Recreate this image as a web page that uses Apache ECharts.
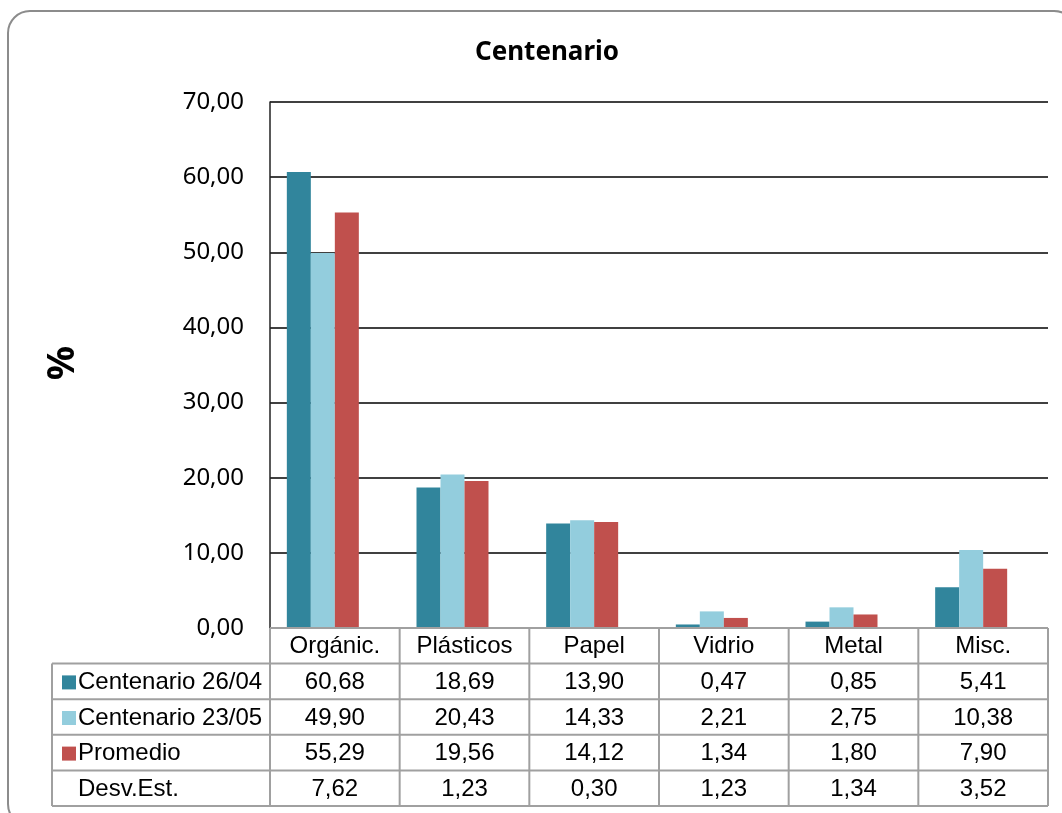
<!DOCTYPE html>
<html><head><meta charset="utf-8">
<script src="https://cdn.jsdelivr.net/npm/echarts@6/dist/echarts.min.js"></script>
<style>html,body{margin:0;padding:0;background:#fff}#c{width:1062px;height:813px}</style>
</head><body><div id="c"></div>
<script>
const categories = ['Orgánic.', 'Plásticos', 'Papel', 'Vidrio', 'Metal', 'Misc.'];
const seriesNames = ['Centenario 26/04', 'Centenario 23/05', 'Promedio'];
const s1 = [60.68, 18.69, 13.90, 0.47, 0.85, 5.41];
const s2 = [49.90, 20.43, 14.33, 2.21, 2.75, 10.38];
const s3 = [55.29, 19.56, 14.12, 1.34, 1.80, 7.90];
const sdevLabel = 'Desv.Est.';
const sdev = [7.62, 1.23, 0.30, 1.23, 1.34, 3.52];
const yTicks = [0, 10, 20, 30, 40, 50, 60, 70];

const colors = ['#31859C', '#93CDDD', '#C0504D'];
const W = 1062, H = 813;
const gL = 270, gR = 1048, gT = 102, gB = 628;
const tableLeft = 52, rowH = 35.6;
const fmt = v => v.toFixed(2).replace('.', ',');
const tableFont = '24px "Liberation Sans", Arial, sans-serif';
const lineCol = '#a0a0a0';

const chart = echarts.init(document.getElementById('c'), null, {renderer: 'canvas'});

function buildGraphic() {
  const els = [];
  els.push({type: 'rect', shape: {x: 8, y: 11, width: 1068, height: 815, r: 22},
    style: {fill: 'none', stroke: '#8c8c8c', lineWidth: 2}, z: 0});
  els.push({type: 'text', x: 63, y: 363, rotation: Math.PI / 2,
    style: {text: '%', font: 'bold 38px "Noto Sans", sans-serif', fill: '#000', align: 'center', verticalAlign: 'middle'}, z: 6});
  const colW = (gR - gL) / categories.length;
  const rows = [
    {label: seriesNames[0], vals: s1, color: colors[0]},
    {label: seriesNames[1], vals: s2, color: colors[1]},
    {label: seriesNames[2], vals: s3, color: colors[2]},
    {label: sdevLabel, vals: sdev, color: null}
  ];
  const top = gB, hdrB = gB + rowH, bottom = hdrB + rows.length * rowH;
  const line = (x1, y1, x2, y2) => els.push({type: 'line', shape: {x1, y1, x2, y2},
    style: {stroke: lineCol, lineWidth: 2}, z: 5});
  line(gL, top, gR, top);
  for (let r = 0; r <= rows.length; r++) line(tableLeft, hdrB + r * rowH, gR, hdrB + r * rowH);
  line(tableLeft, hdrB, tableLeft, bottom);
  for (let c = 0; c <= categories.length; c++) line(gL + c * colW, top, gL + c * colW, bottom);
  categories.forEach((cat, i) => {
    els.push({type: 'text', x: gL + (i + 0.5) * colW, y: top + rowH / 2 + 1,
      style: {text: cat, font: tableFont, fill: '#000', align: 'center', verticalAlign: 'middle'}, z: 6});
  });
  rows.forEach((row, r) => {
    const cy = hdrB + (r + 0.5) * rowH + 1;
    if (row.color) {
      els.push({type: 'rect', shape: {x: 62, y: cy - 7, width: 14, height: 14},
        style: {fill: row.color}, z: 6});
    }
    els.push({type: 'text', x: 78, y: cy,
      style: {text: row.label, font: tableFont, fill: '#000', align: 'left', verticalAlign: 'middle'}, z: 6});
    row.vals.forEach((v, i) => {
      els.push({type: 'text', x: gL + (i + 0.5) * colW, y: cy,
        style: {text: fmt(v), font: tableFont, fill: '#000', align: 'center', verticalAlign: 'middle'}, z: 6});
    });
  });
  return els;
}

const barSeries = [s1, s2, s3].map((d, i) => ({
  type: 'bar', name: seriesNames[i], data: d, barWidth: 24, barGap: '0%',
  itemStyle: {color: colors[i]}, z: 3
}));
// Desv.Est. is a table-only series: it occupies a slot but has no visible fill
barSeries.push({type: 'bar', name: sdevLabel, data: sdev, barWidth: 24, barGap: '0%',
  itemStyle: {color: 'rgba(0,0,0,0)'}, z: 3, silent: true});

const option = {
  animation: false,
  backgroundColor: '#fff',
  title: {text: 'Centenario', left: 470, top: 35,
    textStyle: {fontFamily: '"Noto Sans", sans-serif', fontWeight: 'bold', fontSize: 26, color: '#000'}},
  grid: {left: gL, right: W - gR, top: gT, bottom: H - gB, containLabel: false},
  xAxis: {type: 'category', data: categories,
    axisLine: {show: false}, axisTick: {show: false}, axisLabel: {show: false}, splitLine: {show: false}},
  yAxis: {type: 'value', min: 0, max: 70, interval: 10,
    axisLine: {show: true, lineStyle: {color: '#222', width: 1.5}},
    axisTick: {show: false},
    axisLabel: {margin: 26, fontFamily: '"Noto Sans", sans-serif', fontSize: 24, color: '#000',
      formatter: v => yTicks.includes(v) ? fmt(v) : ''},
    splitLine: {show: true, lineStyle: {color: '#000', width: 1.5}}},
  series: barSeries,
  graphic: buildGraphic()
};
chart.setOption(option);
</script></body></html>
